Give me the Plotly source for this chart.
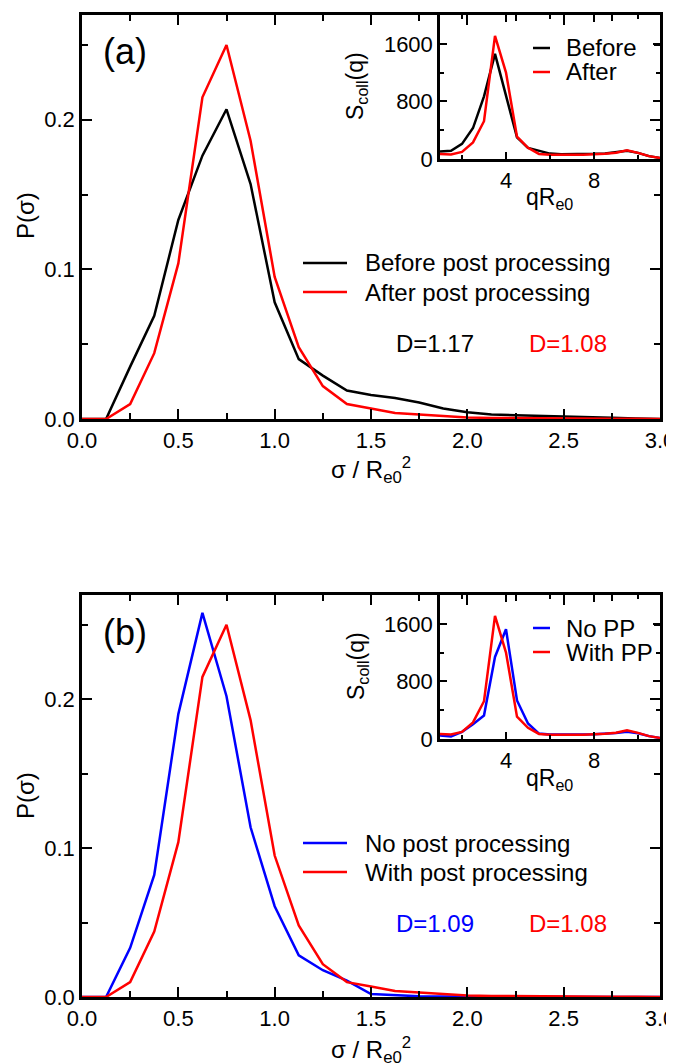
import plotly.graph_objects as go

# ---------------- data ----------------
sigma = [0.0, 0.125, 0.25, 0.375, 0.5, 0.625, 0.75, 0.875, 1.0, 1.125, 1.25, 1.375,
         1.5, 1.625, 1.75, 1.875, 2.0, 2.125, 2.25, 2.375, 2.5, 2.625, 2.75, 2.875, 3.0]
p_before = [0, 0, 0.035, 0.069, 0.133, 0.176, 0.207, 0.157, 0.078, 0.040, 0.029, 0.019,
            0.016, 0.014, 0.011, 0.007, 0.0045, 0.003, 0.0025, 0.0022, 0.0019, 0.0013,
            0.0008, 0.0003, 0.0]
p_after = [0, 0, 0.010, 0.044, 0.104, 0.215, 0.250, 0.186, 0.095, 0.048, 0.022, 0.010,
           0.007, 0.004, 0.003, 0.002, 0.001, 0.0007, 0.0005, 0.0004, 0.0003, 0.0002,
           0.0001, 0.0001, 0.0]
p_nopp = [0, 0, 0.033, 0.082, 0.190, 0.258, 0.202, 0.114, 0.061, 0.028, 0.018, 0.011,
          0.002, 0.001, 0.0005, 0.0003, 0.0002, 0.0001, 0, 0, 0, 0, 0, 0, 0]

q = [1.0, 1.5, 2.0, 2.5, 3.0, 3.5, 4.0, 4.5, 5.0, 5.5, 6.0, 6.5, 7.0, 7.5, 8.0, 8.5,
     9.0, 9.5, 10.0, 10.5, 11.0]
s_before = [105, 115, 210, 430, 870, 1460, 880, 300, 155, 115, 75, 65, 65, 68, 72, 78,
            92, 115, 85, 40, 15]
s_after = [70, 62, 98, 230, 525, 1710, 1200, 310, 155, 70, 58, 55, 58, 60, 65, 72,
           88, 120, 85, 40, 15]
s_nopp = [48, 35, 100, 205, 325, 1140, 1525, 535, 215, 75, 62, 60, 60, 62, 65, 70,
          82, 100, 80, 40, 15]

main_xticks = [0.0, 0.5, 1.0, 1.5, 2.0, 2.5, 3.0]
main_yticks = [0.0, 0.1, 0.2]
inset_xticks = [4, 8]
inset_yticks = [0, 800, 1600]

# ---------------- layout helpers ----------------
# the page body has an 8px margin, so the figure is 8px smaller than the window
OFF = 8
W, H = 674 - OFF, 1063 - OFF
FONT = "Liberation Sans, Arial, Helvetica, sans-serif"
BLACK, RED, BLUE = "#000000", "#ff0000", "#0000ff"
LW = 2.5


def px(x):
    return (x - OFF) / W


def py(y):
    return 1 - (y - OFF) / H


fig = go.Figure()

# main (a)
fig.add_trace(go.Scatter(x=sigma, y=p_before, mode="lines", line=dict(color=BLACK, width=LW),
                         xaxis="x", yaxis="y", showlegend=False))
fig.add_trace(go.Scatter(x=sigma, y=p_after, mode="lines", line=dict(color=RED, width=LW),
                         xaxis="x", yaxis="y", showlegend=False))
# inset (a)
fig.add_trace(go.Scatter(x=q, y=s_before, mode="lines", line=dict(color=BLACK, width=LW),
                         xaxis="x2", yaxis="y2", showlegend=False))
fig.add_trace(go.Scatter(x=q, y=s_after, mode="lines", line=dict(color=RED, width=LW),
                         xaxis="x2", yaxis="y2", showlegend=False))
# main (b)
fig.add_trace(go.Scatter(x=sigma, y=p_nopp, mode="lines", line=dict(color=BLUE, width=LW),
                         xaxis="x3", yaxis="y3", showlegend=False))
fig.add_trace(go.Scatter(x=sigma, y=p_after, mode="lines", line=dict(color=RED, width=LW),
                         xaxis="x3", yaxis="y3", showlegend=False))
# inset (b)
fig.add_trace(go.Scatter(x=q, y=s_nopp, mode="lines", line=dict(color=BLUE, width=LW),
                         xaxis="x4", yaxis="y4", showlegend=False))
fig.add_trace(go.Scatter(x=q, y=s_after, mode="lines", line=dict(color=RED, width=LW),
                         xaxis="x4", yaxis="y4", showlegend=False))

COMMON = dict(ticks="inside", tickwidth=2, tickcolor=BLACK, showline=True, linewidth=2.5,
              linecolor=BLACK, mirror="allticks", showgrid=False, zeroline=False,
              automargin=False, ticklabeloverflow="allow",
              tickfont=dict(family=FONT, size=22, color=BLACK))


def main_x(anchor):
    return dict(domain=[px(82), px(660)], anchor=anchor, range=[0, 3],
                tickvals=main_xticks, tickformat=".1f", ticklen=10, **COMMON,
                minor=dict(ticks="inside", ticklen=6, tickwidth=2, tickcolor=BLACK,
                           tickvals=[0.25, 0.75, 1.25, 1.75, 2.25, 2.75]))


def main_y(anchor, dom):
    return dict(domain=dom, anchor=anchor, range=[0, 0.27],
                tickvals=main_yticks, tickformat=".1f", ticklen=10, **COMMON,
                minor=dict(ticks="inside", ticklen=6, tickwidth=2, tickcolor=BLACK,
                           tickvals=[0.05, 0.15, 0.25]))


def inset_x(anchor):
    return dict(domain=[px(440), px(660)], anchor=anchor, range=[1, 11],
                tickvals=inset_xticks, ticklen=7, **COMMON,
                minor=dict(ticks="inside", ticklen=4, tickwidth=2, tickcolor=BLACK,
                           tickvals=[2, 6, 10]))


def inset_y(anchor, dom):
    return dict(domain=dom, anchor=anchor, range=[0, 2000],
                tickvals=inset_yticks, ticklen=7, **COMMON,
                minor=dict(ticks="inside", ticklen=4, tickwidth=2, tickcolor=BLACK,
                           tickvals=[400, 1200]))


annotations = []
shapes = []


def text(x, y, s, size=24, color=BLACK, angle=0, xanchor="center"):
    annotations.append(dict(x=px(x), y=py(y), xref="paper", yref="paper", text=s,
                            showarrow=False, xanchor=xanchor, yanchor="middle",
                            textangle=angle, font=dict(family=FONT, size=size, color=color)))


def legline(x0, x1, y, color):
    shapes.append(dict(type="line", xref="paper", yref="paper", x0=px(x0), x1=px(x1),
                       y0=py(y), y1=py(y), line=dict(color=color, width=LW)))


for off, lab, c1, n1, n2, d1, in1, in2 in [
        (0, "(a)", BLACK, "Before post processing", "After post processing", "D=1.17",
         "Before", "After"),
        (580, "(b)", BLUE, "No post processing", "With post processing", "D=1.09",
         "No PP", "With PP")]:
    text(125, 52 + off, lab, size=36)
    text(25, 216 + off, "P(σ)", size=24, angle=-90)
    text(371, 470 + off, "σ / R<sub>e0</sub><sup>2</sup>", size=24)
    text(357, 86 + off, "S<sub>coll</sub>(q)", size=23, angle=-90)
    text(549, 199 + off, "qR<sub>e0</sub>", size=23)
    # main legend
    legline(303, 347, 263 + off, c1)
    legline(303, 347, 292 + off, RED)
    text(363, 263 + off, n1, xanchor="left")
    text(363, 292 + off, n2, xanchor="left")
    text(435, 343 + off, d1, color=c1)
    text(568, 343 + off, "D=1.08", color=RED)
    # inset legend
    legline(533, 550, 48 + off, c1)
    legline(533, 550, 72 + off, RED)
    text(564, 48 + off, in1, xanchor="left")
    text(564, 72 + off, in2, xanchor="left")

fig.update_layout(
    width=W, height=H, autosize=False,
    margin=dict(l=0, r=0, t=0, b=0, autoexpand=False),
    paper_bgcolor="white", plot_bgcolor="rgba(0,0,0,0)",
    showlegend=False,
    xaxis=main_x("y"), yaxis=main_y("x", [py(419), py(15)]),
    xaxis2=inset_x("y2"), yaxis2=inset_y("x2", [py(159), py(15)]),
    xaxis3=main_x("y3"), yaxis3=main_y("x3", [py(997), py(595)]),
    xaxis4=inset_x("y4"), yaxis4=inset_y("x4", [py(739), py(595)]),
    annotations=annotations, shapes=shapes,
)

fig.write_html("out.html")
